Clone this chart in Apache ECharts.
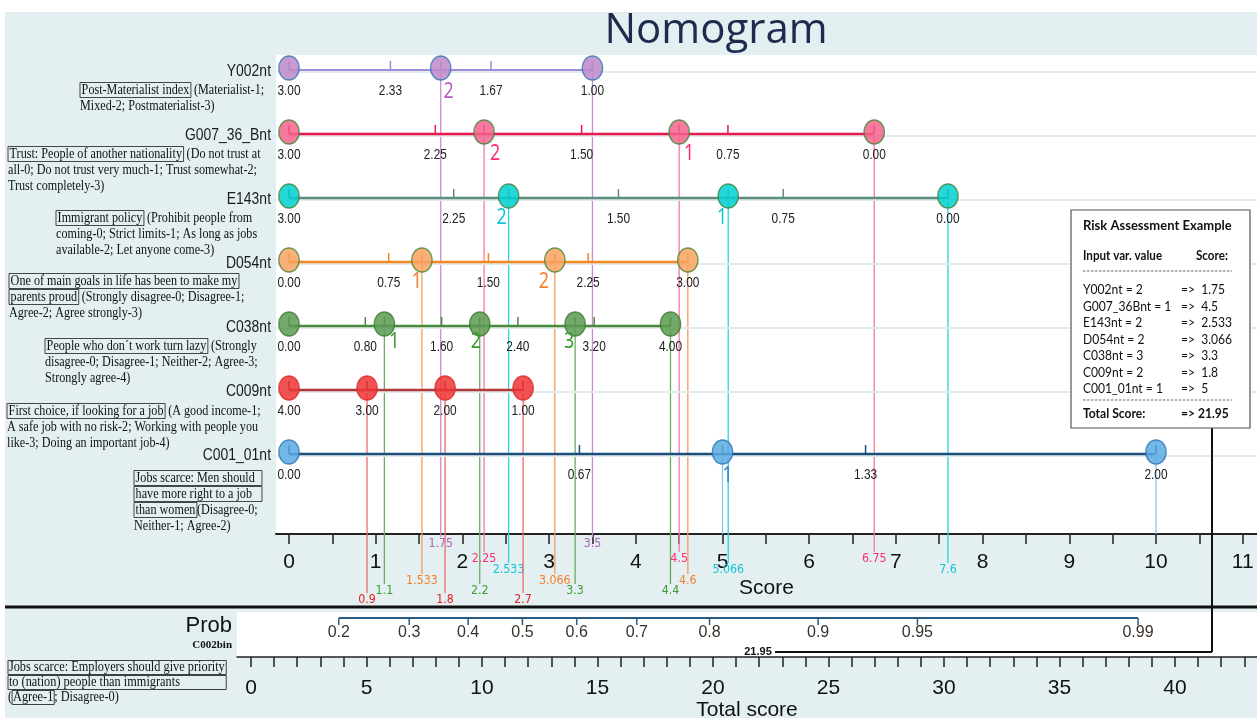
<!DOCTYPE html>
<html>
<head>
<meta charset="utf-8">
<title>Nomogram</title>
<script src="https://cdn.jsdelivr.net/npm/echarts@6/dist/echarts.min.js"></script>
<style>
html, body { margin: 0; padding: 0; background: #fff; }
#main {
  width: 1257px; height: 722px;
  background: linear-gradient(#e3eff0, #e3eff0) 5px 12px / 1252px 706px no-repeat, #fff;
}
</style>
</head>
<body>
<div id="main"></div>
<script>
// variables, top to bottom
const rowNames = ['Y002nt', 'G007_36_Bnt', 'E143nt', 'D054nt', 'C038nt', 'C009nt', 'C001_01nt'];

// labelled ticks of each variable axis, and the points where they sit
const tickLabels = [
  ['3.00', '2.33', '1.67', '1.00'],
  ['3.00', '2.25', '1.50', '0.75', '0.00'],
  ['3.00', '2.25', '1.50', '0.75', '0.00'],
  ['0.00', '0.75', '1.50', '2.25', '3.00'],
  ['0.00', '0.80', '1.60', '2.40', '3.20', '4.00'],
  ['4.00', '3.00', '2.00', '1.00'],
  ['0.00', '0.67', '1.33', '2.00']
];
const tickScores = [
  [0, 1.17, 2.33, 3.5],
  [0, 1.6875, 3.375, 5.0625, 6.75],
  [0, 1.9, 3.8, 5.7, 7.6],
  [0, 1.15, 2.3, 3.45, 4.6],
  [0, 0.88, 1.76, 2.64, 3.52, 4.4],
  [0, 0.9, 1.8, 2.7],
  [0, 3.35, 6.65, 10]
];

// answer levels (circles) and the points they give
const levelValues = [
  [3, 2, 1],
  [3, 2, 1, 0],
  [3, 2, 1, 0],
  [0, 1, 2, 3],
  [0, 1, 2, 3, 4],
  [4, 3, 2, 1],
  [0, 1, 2]
];
const levelScores = [
  [0, 1.75, 3.5],
  [0, 2.25, 4.5, 6.75],
  [0, 2.533, 5.066, 7.6],
  [0, 1.533, 3.066, 4.6],
  [0, 1.1, 2.2, 3.3, 4.4],
  [0, 0.9, 1.8, 2.7],
  [0, 5, 10]
];
// levels that carry a big number next to the circle
const levelTagged = [[2], [2, 1], [2, 1], [1, 2], [1, 2, 3], [], [1]];

// score axis
const scoreTicks = [0, 0.5, 1, 1.5, 2, 2.5, 3, 3.5, 4, 4.5, 5, 5.5, 6, 6.5, 7, 7.5, 8, 8.5, 9, 9.5, 10, 10.5, 11];
const scoreLabels = [0, 1, 2, 3, 4, 5, 6, 7, 8, 9, 10, 11];

// total score axis and probability scale
const totalTicks = [0, 1, 2, 3, 4, 5, 6, 7, 8, 9, 10, 11, 12, 13, 14, 15, 16, 17, 18, 19, 20, 21,
  22, 23, 24, 25, 26, 27, 28, 29, 30, 31, 32, 33, 34, 35, 36, 37, 38, 39, 40, 41, 42, 43];
const totalLabels = [0, 5, 10, 15, 20, 25, 30, 35, 40];
const probLabels = ['0.2', '0.3', '0.4', '0.5', '0.6', '0.7', '0.8', '0.9', '0.95', '0.99'];
const probAtTotal = [3.8, 6.85, 9.4, 11.75, 14.1, 16.7, 19.85, 24.55, 28.85, 38.4];

// risk assessment example
const exampleInputs = ['Y002nt = 2', 'G007_36Bnt = 1', 'E143nt = 2', 'D054nt = 2', 'C038nt = 3', 'C009nt = 2', 'C001_01nt = 1'];
const exampleScores = [1.75, 4.5, 2.533, 3.066, 3.3, 1.8, 5];
const totalScore = exampleScores.reduce((a, b) => a + b, 0);

// descriptions of the variables (boxed part = question)
const rowDescs = [
  '{b|Post-Materialist index} (Materialist-1;\nMixed-2; Postmaterialist-3)',
  '{b|Trust: People of another nationality} (Do not trust at\nall-0; Do not trust very much-1; Trust somewhat-2;\nTrust completely-3)',
  '{b|Immigrant policy} (Prohibit people from\ncoming-0; Strict limits-1; As long as jobs\navailable-2; Let anyone come-3)',
  '{b|One of main goals in life has been to make my}\n{b|parents proud} (Strongly disagree-0; Disagree-1;\nAgree-2; Agree strongly-3)',
  '{b|People who don\u00b4t work turn lazy} (Strongly\ndisagree-0; Disagree-1; Neither-2; Agree-3;\nStrongly agree-4)',
  '{b|First choice, if looking for a job} (A good income-1;\nA safe job with no risk-2; Working with people you\nlike-3; Doing an important job-4)',
  '{w|Jobs scarce: Men should}\n{w|have more right to a job}\n{b|than women}(Disagree-0;\nNeither-1; Agree-2)'
];
const outcomeDesc = '{w|Jobs scarce: Employers should give priority}\n{w|to (nation) people than immigrants}\n({b|Agree-1}; Disagree-0)';

// ---- styles / layout ----
const rowStyle = [
  { line: '#9b8fd9', width: 2, fill: '#bd88c8', stroke: '#3b78b8', drop: '#c98ad3', tag: '#b45fbc' },
  { line: '#e8194c', width: 2.5, fill: '#f4618d', stroke: '#3f8a3a', drop: '#f37aa2', tag: '#ff2a7a' },
  { line: '#5e8c7e', width: 2.5, fill: '#00d0d2', stroke: '#3f8a3a', drop: '#2ad3e3', tag: '#12c4d6' },
  { line: '#f4891f', width: 2.5, fill: '#f8a262', stroke: '#4f8a3a', drop: '#f59a60', tag: '#f7802c' },
  { line: '#4a8a3a', width: 2.5, fill: '#5a9a50', stroke: '#3e7e34', drop: '#6eaa62', tag: '#3a9a32' },
  { line: '#b03a3a', width: 2.5, fill: '#ee3535', stroke: '#dd2a2a', drop: '#f06a6a', tag: '#e82020' },
  { line: '#1c4f7c', width: 2.5, fill: '#5aaae2', stroke: '#2d77b8', drop: '#8ac6ec', tag: '#2f86cc' }
];
const tagDx = [[8], [11, 10], [-7, -6], [-5, -11], [10, -4, -6], [], [5]];
const tagDy = [22, 20, 20, 20, 16, 0, 22];
const dropLabelY = [544, 559, 570, 581, 591, 600, null];
const descX = [80, 8, 56, 9, 45, 7, 134];
const descDy = [12, 12, 12, 11, 12, 13, 16];
const SX = 0.85;            // the picture is squeezed horizontally
const SCORE_MIN = -0.15, SCORE_MAX = 11.165;
const ROW_MIN = -0.234375, ROW_MAX = 7.25;
const CONNECT_X = 1212;

function dropItem(params, api) {
  const i = params.dataIndex;
  const st = rowStyle[i];
  const y = api.coord([0, i])[1] - 2;
  const axisY = api.coord([0, ROW_MAX])[1];
  const kids = [];
  levelScores[i].forEach(s => {
    if (s === 0) return;
    const x = api.coord([s, i])[0];
    const ly = dropLabelY[i];
    kids.push({ type: 'line', shape: { x1: x, y1: y, x2: x, y2: ly == null ? axisY : ly - 7 },
      style: { stroke: st.drop, lineWidth: 1.3 } });
    if (ly != null) {
      kids.push({ type: 'text', x: x, y: ly, scaleX: SX,
        style: { text: String(s), fontSize: 13, fontFamily: 'DejaVu Sans', fill: st.tag, align: 'center', verticalAlign: 'middle' } });
    }
  });
  return { type: 'group', children: kids };
}

function rowItem(params, api) {
  const i = params.dataIndex;
  const st = rowStyle[i];
  const y = api.coord([0, i])[1];
  const px = s => api.coord([s, i])[0];
  const sc = levelScores[i];
  const kids = [];
  kids.push({ type: 'line', shape: { x1: px(SCORE_MIN), y1: y + 2, x2: px(SCORE_MAX), y2: y + 2 },
    style: { stroke: '#e2ebf0', lineWidth: 2 } });
  kids.push({ type: 'line', shape: { x1: px(0), y1: y, x2: px(Math.max.apply(null, sc)), y2: y },
    style: { stroke: st.line, lineWidth: st.width } });
  tickScores[i].concat(sc).forEach(s => {
    kids.push({ type: 'line', shape: { x1: px(s), y1: y, x2: px(s), y2: y - 9 },
      style: { stroke: st.line, lineWidth: 1.5 } });
  });
  tickScores[i].forEach((s, k) => {
    kids.push({ type: 'text', x: px(s), y: y + 21, scaleX: SX,
      style: { text: tickLabels[i][k], fontSize: 14, fontFamily: 'Liberation Sans', fill: '#222', align: 'center', verticalAlign: 'middle' } });
  });
  sc.forEach(s => {
    kids.push({ type: 'circle', x: px(s), y: y - 2, scaleX: SX, shape: { cx: 0, cy: 0, r: 12 },
      style: { fill: st.fill, stroke: st.stroke, lineWidth: 1.5, opacity: 0.85 } });
  });
  levelTagged[i].forEach((v, j) => {
    const k = levelValues[i].indexOf(v);
    kids.push({ type: 'text', x: px(sc[k]) + tagDx[i][j], y: y + tagDy[i], scaleX: SX,
      style: { text: String(v), fontSize: 21, fontFamily: 'Noto Sans', fill: st.tag, align: 'center', verticalAlign: 'middle' } });
  });
  kids.push({ type: 'text', x: px(SCORE_MIN) - 5, y: y + 1, scaleX: 0.82,
    style: { text: rowNames[i], fontSize: 17, fontFamily: 'Liberation Sans', fill: '#1a1a1a', align: 'right', verticalAlign: 'middle' } });
  return { type: 'group', children: kids };
}

function probItem(params, api) {
  const top = api.coord([0, 1])[1];
  const px = v => api.coord([v, 0])[0];
  const lineY = top + 6;
  const kids = [];
  kids.push({ type: 'line', shape: { x1: px(probAtTotal[0]), y1: lineY, x2: px(probAtTotal[probAtTotal.length - 1]), y2: lineY },
    style: { stroke: '#2b5d85', lineWidth: 2 } });
  probAtTotal.forEach((v, k) => {
    kids.push({ type: 'line', shape: { x1: px(v), y1: lineY, x2: px(v), y2: lineY + 7 }, style: { stroke: '#2b5d85', lineWidth: 1.5 } });
    kids.push({ type: 'text', x: px(v), y: lineY + 15,
      style: { text: probLabels[k], fontSize: 16, fontFamily: 'Liberation Sans', fill: '#3a3128', align: 'center', verticalAlign: 'middle' } });
  });
  const tx = px(totalScore);
  kids.push({ type: 'text', x: tx, y: top + 40,
    style: { text: totalScore.toFixed(2), fontSize: 11, fontWeight: 'bold', fontFamily: 'Liberation Sans', fill: '#111', align: 'center', verticalAlign: 'middle' } });
  kids.push({ type: 'line', shape: { x1: tx + 17, y1: top + 40, x2: CONNECT_X, y2: top + 40 }, style: { stroke: '#111', lineWidth: 2 } });
  return { type: 'group', children: kids };
}

const serifRich = {
  b: { borderColor: '#333', borderWidth: 1, padding: [0, 2], fontSize: 15, fontFamily: 'Liberation Serif', lineHeight: 16, color: '#111' },
  w: { borderColor: '#333', borderWidth: 1, padding: [0, 2], width: 154, fontSize: 15, fontFamily: 'Liberation Serif', lineHeight: 16, color: '#111' }
};

const graphics = [
  { type: 'text', x: 716, y: 31, style: { text: 'Nomogram', fontSize: 42, fontFamily: 'Open Sans', fill: '#1d2b4e', align: 'center', verticalAlign: 'middle' } },
  { type: 'line', z: 100, shape: { x1: 5, y1: 607, x2: 1257, y2: 607 }, style: { stroke: '#111', lineWidth: 3 } },
  { type: 'line', z: 100, shape: { x1: CONNECT_X, y1: 428, x2: CONNECT_X, y2: 652 }, style: { stroke: '#111', lineWidth: 2 } },
  { type: 'text', x: 232, y: 626, style: { text: 'Prob', fontSize: 22, fontFamily: 'Liberation Sans', fill: '#111', align: 'right', verticalAlign: 'middle' } },
  { type: 'text', x: 232, y: 645, style: { text: 'C002bin', fontSize: 11, fontWeight: 'bold', fontFamily: 'Liberation Serif', fill: '#111', align: 'right', verticalAlign: 'middle' } },
  { type: 'text', x: 8, y: 660, scaleX: 0.88,
    style: { text: outcomeDesc, fontSize: 14, fontFamily: 'Liberation Serif', fill: '#111', lineHeight: 15,
      rich: {
        b: { borderColor: '#333', borderWidth: 1, padding: [0, 1], fontSize: 14, fontFamily: 'Liberation Serif', lineHeight: 15, color: '#111' },
        w: { borderColor: '#333', borderWidth: 1, padding: [0, 1], width: 246, fontSize: 14, fontFamily: 'Liberation Serif', lineHeight: 15, color: '#111' }
      } } }
];

rowDescs.forEach((d, i) => {
  graphics.push({ type: 'text', x: descX[i], y: 70 + 64 * i + descDy[i], scaleX: 0.81,
    style: { text: d, fontSize: 15, fontFamily: 'Liberation Serif', fill: '#111', lineHeight: 16, rich: serifRich } });
});

// risk assessment box (drawn above the plot)
const boxKids = [
  { type: 'rect', shape: { x: 1071, y: 210, width: 179, height: 218 }, style: { fill: '#fff', stroke: '#555', lineWidth: 1.2 } },
  { type: 'text', x: 1083, y: 225, scaleX: 0.93, style: { text: 'Risk Assessment Example', fontSize: 14, fontWeight: 'bold', fontFamily: 'Lato', fill: '#111', verticalAlign: 'middle' } },
  { type: 'text', x: 1083, y: 256, scaleX: 0.93, style: { text: 'Input var. value', fontSize: 12.5, fontWeight: 'bold', fontFamily: 'Lato', fill: '#111', verticalAlign: 'middle' } },
  { type: 'text', x: 1196, y: 256, scaleX: 0.93, style: { text: 'Score:', fontSize: 12.5, fontWeight: 'bold', fontFamily: 'Lato', fill: '#111', verticalAlign: 'middle' } },
  { type: 'line', shape: { x1: 1083, y1: 271, x2: 1232, y2: 271 }, style: { stroke: '#666', lineWidth: 1, lineDash: [2.5, 1.5] } },
  { type: 'line', shape: { x1: 1083, y1: 400, x2: 1232, y2: 400 }, style: { stroke: '#666', lineWidth: 1, lineDash: [2.5, 1.5] } },
  { type: 'text', x: 1083, y: 414, scaleX: 0.93, style: { text: 'Total Score:', fontSize: 13, fontWeight: 'bold', fontFamily: 'Lato', fill: '#111', verticalAlign: 'middle' } },
  { type: 'text', x: 1181, y: 414, scaleX: 0.93, style: { text: '=> ' + totalScore.toFixed(2), fontSize: 13, fontWeight: 'bold', fontFamily: 'Lato', fill: '#111', verticalAlign: 'middle' } }
];
exampleInputs.forEach((t, k) => {
  boxKids.push({ type: 'text', x: 1083, y: 290 + 16.5 * k, scaleX: 0.93,
    style: { text: t, fontSize: 13, fontFamily: 'Lato', fill: '#111', verticalAlign: 'middle' } });
  boxKids.push({ type: 'text', x: 1181, y: 290 + 16.5 * k, scaleX: 0.93,
    style: { text: '=>  ' + exampleScores[k], fontSize: 13, fontFamily: 'Lato', fill: '#111', verticalAlign: 'middle' } });
});
boxKids.forEach(k => { k.z = 100; });
graphics.push({ type: 'group', children: boxKids });

const chart = echarts.init(document.getElementById('main'));
chart.setOption({
  backgroundColor: 'transparent',
  animation: false,
  grid: [
    { left: 276, top: 55, width: 981, height: 479, show: true, backgroundColor: '#fff', borderWidth: 0 },
    { left: 237, top: 612, width: 1020, height: 45, show: true, backgroundColor: '#fff', borderWidth: 0 }
  ],
  xAxis: [
    {
      gridIndex: 0, type: 'value', min: SCORE_MIN, max: SCORE_MAX, position: 'bottom',
      axisLine: { show: true, onZero: false, lineStyle: { color: '#222', width: 2 } },
      axisTick: { show: true, length: 10, lineStyle: { color: '#222', width: 1.5 }, customValues: scoreTicks },
      axisLabel: { customValues: scoreLabels, fontSize: 21, color: '#111', margin: 18, fontFamily: 'Liberation Sans' },
      splitLine: { show: false },
      name: 'Score', nameLocation: 'middle', nameGap: 43,
      nameTextStyle: { fontSize: 21, color: '#111', fontFamily: 'Liberation Sans' }
    },
    {
      gridIndex: 1, type: 'value', min: -0.606, max: 43.55, position: 'bottom',
      axisLine: { show: true, onZero: false, lineStyle: { color: '#222', width: 1.5 } },
      axisTick: { show: true, length: 10, lineStyle: { color: '#222', width: 1.5 }, customValues: totalTicks },
      axisLabel: { customValues: totalLabels, fontSize: 21, color: '#111', margin: 21, fontFamily: 'Liberation Sans' },
      splitLine: { show: false },
      name: 'Total score', nameLocation: 'middle', nameGap: 43,
      nameTextStyle: { fontSize: 21, color: '#111', fontFamily: 'Liberation Sans' }
    }
  ],
  yAxis: [
    { gridIndex: 0, type: 'value', min: ROW_MIN, max: ROW_MAX, inverse: true, show: false },
    { gridIndex: 1, type: 'value', min: 0, max: 1, show: false }
  ],
  graphic: graphics,
  series: [
    { type: 'custom', name: 'drops', xAxisIndex: 0, yAxisIndex: 0, silent: true, z: 2,
      renderItem: dropItem, data: rowNames.map((n, i) => [0, i]) },
    { type: 'custom', name: 'rows', xAxisIndex: 0, yAxisIndex: 0, silent: true, z: 3,
      renderItem: rowItem, data: rowNames.map((n, i) => [0, i]) },
    { type: 'custom', name: 'prob', xAxisIndex: 1, yAxisIndex: 1, silent: true, z: 3,
      renderItem: probItem, data: [[0, 0]] }
  ]
});
window.addEventListener('resize', () => chart.resize());
</script>
</body>
</html>
